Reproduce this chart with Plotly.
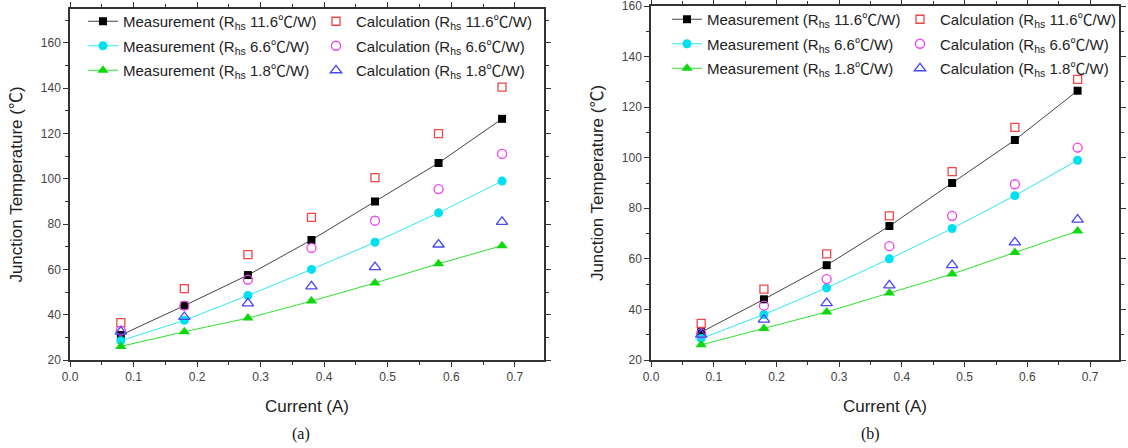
import plotly.graph_objects as go

current = [0.08, 0.18, 0.28, 0.38, 0.48, 0.58, 0.68]

# Panel (a)
meas_116_a = [31, 44, 57.5, 73, 90, 107, 126.5]
calc_116_a = [36.5, 51.5, 66.5, 83, 100.5, 120, 140.5]
meas_66_a = [28.5, 37.5, 48.5, 60, 72, 85, 99]
calc_66_a = [33, 44, 55.5, 69.5, 81.5, 95.5, 111]
meas_18_a = [26, 32.5, 38.5, 46, 54, 62.5, 70.5]
calc_18_a = [32.5, 39, 45, 52.5, 61, 71, 81]

# Panel (b)
meas_116_b = [31, 44, 57.5, 73, 90, 107, 126.5]
calc_116_b = [34.5, 48, 62, 77, 94.5, 112, 131]
meas_66_b = [28.5, 38, 48.5, 60, 72, 85, 99]
calc_66_b = [30.5, 41.5, 52, 65, 77, 89.5, 104]
meas_18_b = [26, 32.5, 39, 46.5, 54, 62.5, 71]
calc_18_b = [30, 36, 42.5, 49.5, 57.5, 66.5, 75.5]

DEG = "<span style='font-family:Noto Sans CJK SC'>℃</span>"

def lbl(kind, r):
    return f"{kind} (R<sub>hs</sub> {r}{DEG}/W)"

fig = go.Figure()

def add_panel(xa, ya, legL, legR, tag, m116, c116, m66, c66, m18, c18):
    def tr(y, name, leg, mode, line, marker, g):
        kw = dict(x=current, y=y, mode=mode, name=name, xaxis=xa, yaxis=ya,
                  legend=leg, legendgroup=tag + g, marker=marker)
        if line is not None:
            kw["line"] = line
        fig.add_trace(go.Scatter(**kw))
    tr(m116, lbl("Measurement", "11.6"), legL, "lines+markers", dict(color="#444444", width=1),
       dict(symbol="square", size=8, color="black"), "m1")
    tr(m66, lbl("Measurement", "6.6"), legL, "lines+markers", dict(color="#30e8f8", width=1),
       dict(symbol="circle", size=9, color="#00e0f0"), "m2")
    tr(m18, lbl("Measurement", "1.8"), legL, "lines+markers", dict(color="#30e030", width=1),
       dict(symbol="triangle-up", size=10, color="#10d810"), "m3")
    tr(c116, lbl("Calculation", "11.6"), legR, "markers", None,
       dict(symbol="square-open", size=8, color="#f04848", line=dict(width=1.3)), "c1")
    tr(c66, lbl("Calculation", "6.6"), legR, "markers", None,
       dict(symbol="circle-open", size=9, color="#f040f0", line=dict(width=1.3)), "c2")
    tr(c18, lbl("Calculation", "1.8"), legR, "markers", None,
       dict(symbol="triangle-up-open", size=10, color="#4848f0", line=dict(width=1.3)), "c3")

add_panel("x", "y", "legend", "legend2", "a", meas_116_a, calc_116_a, meas_66_a, calc_66_a, meas_18_a, calc_18_a)
add_panel("x2", "y2", "legend3", "legend4", "b", meas_116_b, calc_116_b, meas_66_b, calc_66_b, meas_18_b, calc_18_b)

W, H = 1128, 448
axis_col = "#333333"
tickfont = dict(family="Liberation Sans, Arial, sans-serif", size=12, color="#444444")
titlefont = dict(family="Liberation Sans, Arial, sans-serif", size=17, color="#222222")

def xaxis(dom, anchor):
    return dict(domain=dom, range=[0, 0.746], tickvals=[0, 0.1, 0.2, 0.3, 0.4, 0.5, 0.6, 0.7],
                ticktext=["0.0", "0.1", "0.2", "0.3", "0.4", "0.5", "0.6", "0.7"],
                showline=True, linecolor=axis_col, linewidth=1.5, mirror="ticks",
                ticks="outside", ticklen=5, tickwidth=1, tickcolor=axis_col,
                minor=dict(dtick=0.05, tick0=0, ticks="outside", ticklen=3, tickcolor=axis_col, showgrid=False),
                showgrid=False, zeroline=False, tickfont=tickfont, anchor=anchor, automargin=False,
                title=dict(text="Current (A)", font=titlefont, standoff=17))

def yaxis(rng, top_px, anchor):
    return dict(domain=[(H - 360) / H, (H - top_px) / H], range=rng, dtick=20, tick0=0,
                showline=True, linecolor=axis_col, linewidth=1.5, mirror="ticks",
                ticks="outside", ticklen=5, tickwidth=1, tickcolor=axis_col,
                minor=dict(dtick=10, tick0=0, ticks="outside", ticklen=3, tickcolor=axis_col, showgrid=False),
                showgrid=False, zeroline=False, tickfont=tickfont, anchor=anchor, automargin=False,
                ticklabeloverflow="allow",
                title=dict(text="Junction Temperature (" + DEG + ")", font=titlefont, standoff=14))

legend_common = dict(orientation="v", bgcolor="rgba(0,0,0,0)", borderwidth=0,
                     font=dict(family="Liberation Sans, Arial, sans-serif", size=15, color="#222222"),
                     tracegroupgap=2, xanchor="left", yanchor="top", itemwidth=30,
                     xref="paper", yref="paper")

def legpos(x, ytop):
    return dict(x=x / W, y=(H - ytop) / H, **legend_common)

fig.update_layout(
    width=W, height=H,
    margin=dict(l=0, r=0, t=0, b=0, autoexpand=False),
    paper_bgcolor="white", plot_bgcolor="white",
    xaxis=xaxis([70 / W, 544 / W], "y"),
    yaxis=yaxis([20, 175], 9, "x"),
    xaxis2=xaxis([651 / W, 1119 / W], "y2"),
    yaxis2=yaxis([20, 160], 6, "x2"),
    legend=legpos(83, 5),
    legend2=legpos(316, 5),
    legend3=legpos(667, 3),
    legend4=legpos(900, 3),
    annotations=[
        dict(text="(a)", x=290 / W, y=(H - 434) / H, xref="paper", yref="paper", showarrow=False,
             yanchor="middle", font=dict(family="Liberation Serif, Times New Roman, serif", size=16, color="#111111")),
        dict(text="(b)", x=882 / W, y=(H - 434) / H, xref="paper", yref="paper", showarrow=False,
             yanchor="middle", font=dict(family="Liberation Serif, Times New Roman, serif", size=16, color="#111111")),
    ],
)

fig.write_html("out.html", config={"displayModeBar": False},
               post_script="document.body.style.margin='0';document.body.style.overflow='hidden';")
